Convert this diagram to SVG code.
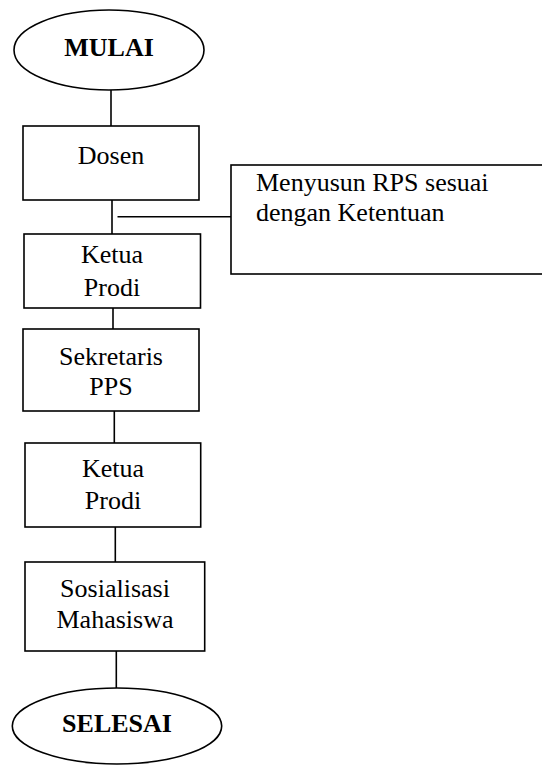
<svg xmlns="http://www.w3.org/2000/svg" width="542" height="765" viewBox="0 0 542 765">
<style>
.s{fill:#fff;stroke:#000;stroke-width:1.6}
.c{fill:none;stroke:#000;stroke-width:1.6}
text{font-family:"Liberation Serif","Times New Roman",serif;font-size:26px;fill:#000}
.m{text-anchor:middle}
.b{font-weight:bold}
</style>
<rect width="542" height="765" fill="#fff"/>
<g id="connectors">
<line class="c" x1="111" y1="90" x2="111" y2="126"/>
<line class="c" x1="112" y1="200" x2="112" y2="234"/>
<line class="c" x1="117.5" y1="216.7" x2="231" y2="216.7"/>
<line class="c" x1="113" y1="308" x2="113" y2="329"/>
<line class="c" x1="114.3" y1="411" x2="114.3" y2="443"/>
<line class="c" x1="115.3" y1="527" x2="115.3" y2="562"/>
<line class="c" x1="116.3" y1="651" x2="116.3" y2="688"/>
</g>
<g id="mulai">
<ellipse class="s" cx="109" cy="50" rx="95" ry="40"/>
<text class="m b" x="109" y="56">MULAI</text>
</g>
<g id="dosen">
<rect class="s" x="23" y="126" width="176" height="74"/>
<text class="m" x="111" y="163.5">Dosen</text>
</g>
<g id="note">
<rect class="s" x="231" y="165" width="320" height="109"/>
<text x="256" y="191">Menyusun RPS sesuai</text>
<text x="256" y="221">dengan Ketentuan</text>
</g>
<g id="ketua1">
<rect class="s" x="24" y="234" width="176.5" height="74"/>
<text class="m" x="112" y="263">Ketua</text>
<text class="m" x="112" y="296">Prodi</text>
</g>
<g id="sekretaris">
<rect class="s" x="23" y="329" width="176" height="82"/>
<text class="m" x="111" y="365">Sekretaris</text>
<text class="m" x="111" y="395">PPS</text>
</g>
<g id="ketua2">
<rect class="s" x="25" y="443" width="175.7" height="84"/>
<text class="m" x="113" y="477">Ketua</text>
<text class="m" x="113" y="509">Prodi</text>
</g>
<g id="sosialisasi">
<rect class="s" x="25" y="562" width="179.7" height="89"/>
<text class="m" x="115" y="597">Sosialisasi</text>
<text class="m" x="115" y="628">Mahasiswa</text>
</g>
<g id="selesai">
<ellipse class="s" cx="117" cy="726" rx="104.7" ry="38"/>
<text class="m b" x="117" y="732">SELESAI</text>
</g>
</svg>
